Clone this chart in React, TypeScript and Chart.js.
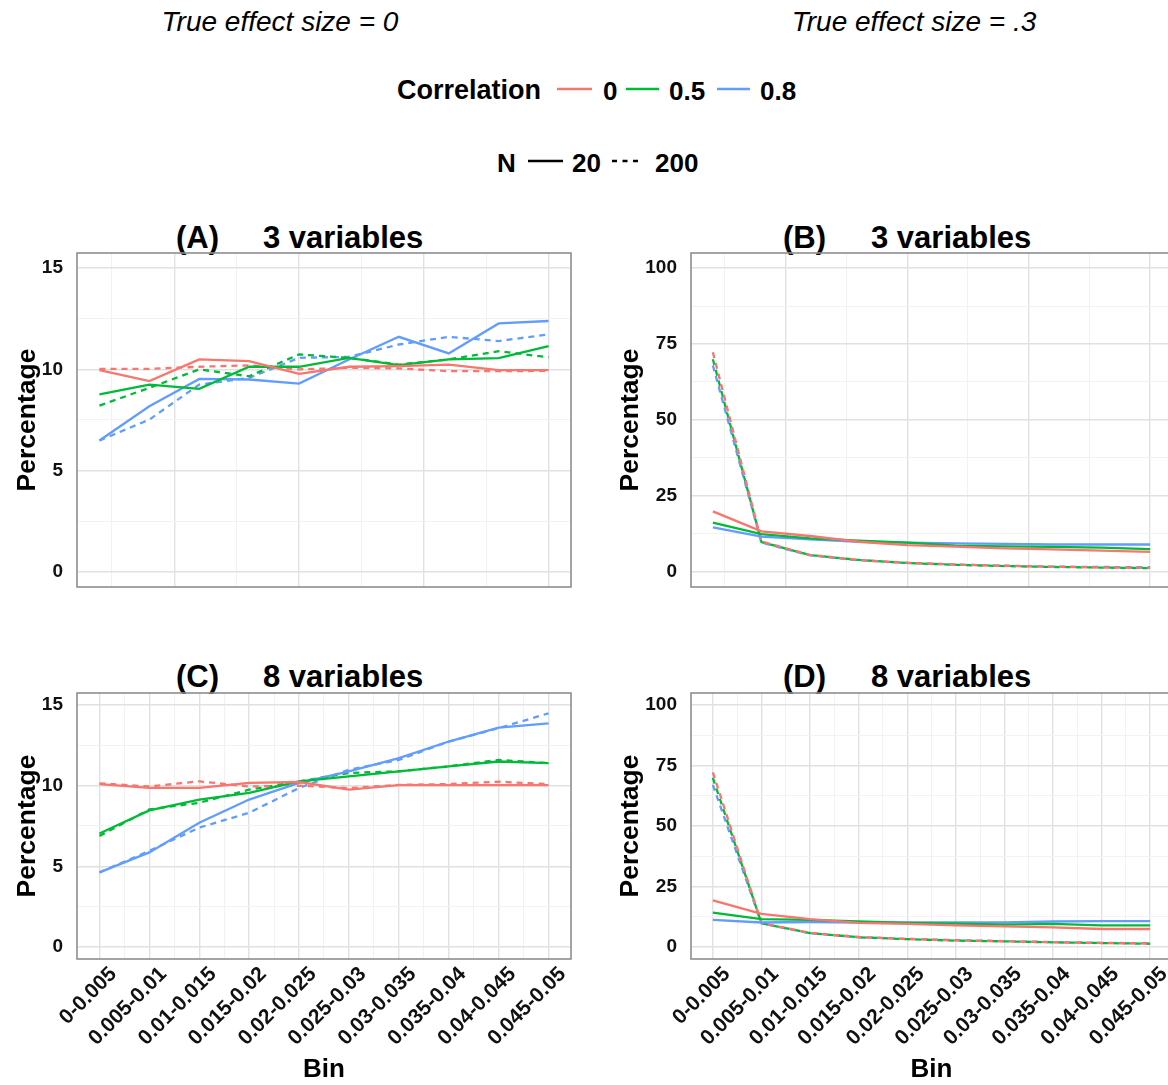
import React, { useEffect, useRef } from 'react';
import { Chart, registerables } from 'chart.js';

Chart.register(...registerables);

// ---------- data ----------
const bins = ['0-0.005', '0.005-0.01', '0.01-0.015', '0.015-0.02', '0.02-0.025', '0.025-0.03', '0.03-0.035', '0.035-0.04', '0.04-0.045', '0.045-0.05'];
const correlationLabels = ['0', '0.5', '0.8'];
const sampleSizeLabels = ['20', '200'];
const smallYTicks = [0, 2.5, 5, 7.5, 10, 12.5, 15];
const smallYLabels = [0, 5, 10, 15];
const bigYTicks = [0, 12.5, 25, 37.5, 50, 62.5, 75, 87.5, 100];
const bigYLabels = [0, 25, 50, 75, 100];

// Panel A: true effect size 0, 3 variables
const aCorr0N20 = [9.96, 9.42, 10.49, 10.41, 9.78, 10.13, 10.16, 10.24, 9.96, 9.96];
const aCorr0N200 = [10.03, 10.03, 10.13, 10.2, 10.0, 10.08, 10.05, 9.91, 9.91, 9.93];
const aCorr5N20 = [8.76, 9.25, 9.04, 10.13, 10.13, 10.57, 10.21, 10.49, 10.56, 11.15];
const aCorr5N200 = [8.21, 9.09, 10.0, 9.66, 10.74, 10.57, 10.24, 10.49, 10.9, 10.6];
const aCorr8N20 = [6.49, 8.18, 9.53, 9.5, 9.3, 10.49, 11.61, 10.79, 12.27, 12.39];
const aCorr8N200 = [6.49, 7.52, 9.25, 9.58, 10.57, 10.62, 11.23, 11.61, 11.4, 11.73];

// Panel B: true effect size .3, 3 variables
const bCorr0N20 = [19.9, 13.3, 11.8, 9.9, 8.8, 8.3, 7.7, 7.4, 7.0, 6.6];
const bCorr0N200 = [72.3, 10.0, 5.6, 3.9, 3.0, 2.4, 2.0, 1.7, 1.4, 1.3];
const bCorr5N20 = [16.2, 12.4, 11.0, 10.3, 9.6, 8.6, 8.4, 8.2, 8.0, 7.5];
const bCorr5N200 = [70.0, 9.8, 5.5, 3.9, 2.9, 2.3, 1.9, 1.6, 1.4, 1.2];
const bCorr8N20 = [14.6, 11.6, 10.7, 9.9, 9.6, 9.4, 9.2, 9.0, 9.0, 9.0];
const bCorr8N200 = [68.0, 9.6, 5.4, 3.8, 2.9, 2.4, 2.0, 1.7, 1.6, 1.5];

// Panel C: true effect size 0, 8 variables
const cCorr0N20 = [10.1, 9.86, 9.86, 10.17, 10.23, 9.76, 10.03, 10.03, 10.03, 10.03];
const cCorr0N200 = [10.15, 9.95, 10.27, 9.95, 10.0, 9.85, 10.05, 10.1, 10.25, 10.1];
const cCorr5N20 = [7.03, 8.47, 9.14, 9.55, 10.27, 10.58, 10.89, 11.2, 11.5, 11.4];
const cCorr5N200 = [6.88, 8.53, 8.94, 9.75, 10.27, 10.79, 10.89, 11.2, 11.6, 11.4];
const cCorr8N20 = [4.62, 5.86, 7.7, 9.14, 10.17, 10.89, 11.71, 12.74, 13.6, 13.87];
const cCorr8N200 = [4.62, 5.96, 7.4, 8.32, 9.86, 10.99, 11.6, 12.74, 13.57, 14.49];

// Panel D: true effect size .3, 8 variables
const dCorr0N20 = [19.2, 13.7, 11.5, 9.9, 9.5, 8.9, 8.5, 8.1, 7.4, 7.4];
const dCorr0N200 = [72.2, 9.9, 5.8, 4.1, 3.3, 2.7, 2.3, 1.9, 1.6, 1.4];
const dCorr5N20 = [14.2, 11.5, 11.2, 10.5, 9.9, 9.6, 9.2, 9.5, 8.9, 8.9];
const dCorr5N200 = [69.9, 9.8, 5.7, 4.0, 3.2, 2.6, 2.3, 1.9, 1.6, 1.3];
const dCorr8N20 = [11.2, 10.1, 10.3, 10.1, 10.1, 10.1, 10.1, 10.5, 10.7, 10.7];
const dCorr8N200 = [67.0, 9.7, 5.6, 4.0, 3.3, 2.8, 2.4, 2.0, 1.7, 1.5];

// ---------- style ----------
const FONT = '"Liberation Sans", Arial, Helvetica, sans-serif';
const COLORS = ['#F8766D', '#00BA38', '#619CFF'];
const DASH = [6, 5];
const MAJOR_GRID = '#e1e1e1';
const MINOR_GRID = '#f2f2f2';

type PanelProps = {
  left: number; top: number; width: number; height: number;
  padTop: number; padRight: number; padBottom: number;
  yAxisW: number; xAxisH: number; showX: boolean; big: boolean; yTitlePad: number;
  n20: number[][]; n200: number[][];
};

const borderPlugin = {
  id: 'panelBorder',
  afterDatasetsDraw(chart: any) {
    const { ctx, chartArea } = chart;
    ctx.save();
    ctx.strokeStyle = '#8e8e8e';
    ctx.lineWidth = 1.6;
    ctx.strokeRect(chartArea.left, chartArea.top, chartArea.right - chartArea.left, chartArea.bottom - chartArea.top);
    ctx.restore();
  },
};

function Panel(p: PanelProps) {
  const ref = useRef<HTMLCanvasElement | null>(null);
  useEffect(() => {
    if (!ref.current) return;
    const toPts = (arr: number[]) => arr.map((v, i) => ({ x: i + 1, y: v }));
    const datasets: any[] = [];
    p.n20.forEach((arr, i) => datasets.push({
      label: `r=${correlationLabels[i]}, N=${sampleSizeLabels[0]}`, data: toPts(arr),
      borderColor: COLORS[i], borderWidth: 2.3, pointRadius: 0, tension: 0, fill: false,
    }));
    p.n200.forEach((arr, i) => datasets.push({
      label: `r=${correlationLabels[i]}, N=${sampleSizeLabels[1]}`, data: toPts(arr),
      borderColor: COLORS[i], borderWidth: 2.3, borderDash: DASH, pointRadius: 0, tension: 0, fill: false,
    }));
    const xTicks = p.showX
      ? [1, 1.5, 2, 2.5, 3, 3.5, 4, 4.5, 5, 5.5, 6, 6.5, 7, 7.5, 8, 8.5, 9, 9.5, 10]
      : [1.25, 2.5, 3.75, 5, 6.25, 7.5, 8.75, 10];
    const xMajor = (v: number) => (p.showX ? Number.isInteger(v) : Math.abs(v / 2.5 - Math.round(v / 2.5)) < 1e-6);
    const yTicks = p.big ? bigYTicks : smallYTicks;
    const yLabels = p.big ? bigYLabels : smallYLabels;
    const chart = new Chart(ref.current, {
      type: 'line',
      data: { datasets },
      options: {
        animation: false,
        responsive: false,
        maintainAspectRatio: false,
        layout: { padding: { left: 0, top: p.padTop, right: p.padRight, bottom: p.padBottom } },
        plugins: { legend: { display: false }, tooltip: { enabled: false }, title: { display: false } },
        scales: {
          x: {
            type: 'linear',
            bounds: 'data',
            min: 0.55,
            max: 10.45,
            afterBuildTicks: (s: any) => { s.ticks = xTicks.map((v) => ({ value: v })); },
            afterFit: (s: any) => { s.height = p.xAxisH; s.paddingLeft = 0; s.paddingRight = 0; },
            grid: {
              drawTicks: false,
              color: (c: any) => (c.tick && xMajor(c.tick.value) ? MAJOR_GRID : MINOR_GRID),
              lineWidth: (c: any) => (c.tick && xMajor(c.tick.value) ? 1.4 : 1.1),
            },
            border: { display: false },
            ticks: {
              display: p.showX,
              autoSkip: false,
              minRotation: 45,
              maxRotation: 45,
              padding: 3,
              labelOffset: 14,
              color: '#111',
              font: { family: FONT, size: 21, weight: 'bold' },
              callback: (v: any) => (Number.isInteger(v) ? bins[v - 1] : ''),
            },
            title: {
              display: p.showX,
              text: 'Bin',
              color: '#000',
              font: { family: FONT, size: 26, weight: 'bold', lineHeight: 1 },
              padding: { top: 0, bottom: 2 },
            },
          },
          y: {
            type: 'linear',
            bounds: 'data',
            min: p.big ? -5 : -0.75,
            max: p.big ? 105 : 15.75,
            afterBuildTicks: (s: any) => { s.ticks = yTicks.map((v) => ({ value: v })); },
            afterFit: (s: any) => { s.width = p.yAxisW; s.paddingTop = 0; s.paddingBottom = 0; },
            grid: {
              drawTicks: false,
              color: (c: any) => (c.tick && yLabels.includes(c.tick.value) ? MAJOR_GRID : MINOR_GRID),
              lineWidth: (c: any) => (c.tick && yLabels.includes(c.tick.value) ? 1.4 : 1.1),
            },
            border: { display: false },
            ticks: {
              padding: 14,
              color: '#111',
              font: { family: FONT, size: 19, weight: 'bold' },
              callback: (v: any) => (yLabels.includes(v) ? String(v) : ''),
            },
            title: {
              display: true,
              text: 'Percentage',
              color: '#000',
              font: { family: FONT, size: 26.5, weight: 'bold', lineHeight: 1 },
              padding: { top: p.yTitlePad, bottom: 0 },
            },
          },
        },
      } as any,
      plugins: [borderPlugin],
    });
    return () => chart.destroy();
  }, []);
  return (
    <canvas
      ref={ref}
      width={p.width}
      height={p.height}
      style={{ position: 'absolute', left: p.left, top: p.top, width: p.width, height: p.height }}
    />
  );
}

function Txt(props: { x: number; base: number; size: number; text: string; bold?: boolean; italic?: boolean; center?: boolean }) {
  const { x, base, size, text, bold, italic, center } = props;
  return (
    <div
      style={{
        position: 'absolute',
        left: x,
        top: base - 0.8465 * size,
        fontSize: size,
        lineHeight: 1,
        fontFamily: FONT,
        fontWeight: bold ? 'bold' : 'normal',
        fontStyle: italic ? 'italic' : 'normal',
        whiteSpace: 'pre',
        color: '#000',
        transform: center ? 'translateX(-50%)' : undefined,
      }}
    >
      {text}
    </div>
  );
}

function Key(props: { x1: number; x2: number; y: number; color: string; dashed?: boolean }) {
  const { x1, x2, y, color, dashed } = props;
  return (
    <svg style={{ position: 'absolute', left: x1, top: y - 3, width: x2 - x1, height: 6 }} width={x2 - x1} height={6}>
      <line x1={0} y1={3} x2={x2 - x1} y2={3} stroke={color} strokeWidth={2.6} strokeDasharray={dashed ? '5 5.5' : undefined} />
    </svg>
  );
}

export default function App() {
  return (
    <div style={{ position: 'absolute', left: 0, top: 0, width: 1168, height: 1085, overflow: 'hidden', background: '#fff' }}>
      <Txt x={280} base={32} size={28} text="True effect size = 0" italic center />
      <Txt x={914} base={32} size={28} text="True effect size = .3" italic center />

      <Txt x={397} base={100} size={27} text="Correlation" bold />
      <Key x1={557} x2={592} y={89} color={COLORS[0]} />
      <Txt x={603} base={100} size={26} text={correlationLabels[0]} bold />
      <Key x1={626} x2={659} y={89} color={COLORS[1]} />
      <Txt x={669} base={100} size={26} text={correlationLabels[1]} bold />
      <Key x1={717} x2={750} y={89} color={COLORS[2]} />
      <Txt x={760} base={100} size={26} text={correlationLabels[2]} bold />

      <Txt x={497} base={172} size={26} text="N" bold />
      <Key x1={528} x2={563} y={161} color="#000" />
      <Txt x={572} base={172} size={26} text={sampleSizeLabels[0]} bold />
      <Key x1={612} x2={640} y={161} color="#000" dashed />
      <Txt x={655} base={172} size={26} text={sampleSizeLabels[1]} bold />

      <Txt x={176} base={248} size={31} text="(A)" bold />
      <Txt x={263} base={248} size={31} text="3 variables" bold />
      <Txt x={783} base={248} size={31} text="(B)" bold />
      <Txt x={871} base={248} size={31} text="3 variables" bold />
      <Txt x={176} base={687} size={31} text="(C)" bold />
      <Txt x={263} base={687} size={31} text="8 variables" bold />
      <Txt x={783} base={687} size={31} text="(D)" bold />
      <Txt x={871} base={687} size={31} text="8 variables" bold />

      <Panel left={0} top={250} width={590} height={345} padTop={3} padRight={19} padBottom={8}
        yAxisW={77} xAxisH={0} showX={false} big={false} yTitlePad={14}
        n20={[aCorr0N20, aCorr5N20, aCorr8N20]} n200={[aCorr0N200, aCorr5N200, aCorr8N200]} />
      <Panel left={600} top={250} width={580} height={345} padTop={3} padRight={8} padBottom={8}
        yAxisW={91} xAxisH={0} showX={false} big={true} yTitlePad={17}
        n20={[bCorr0N20, bCorr5N20, bCorr8N20]} n200={[bCorr0N200, bCorr5N200, bCorr8N200]} />
      <Panel left={0} top={690} width={590} height={395} padTop={3} padRight={19} padBottom={0}
        yAxisW={77} xAxisH={126} showX={true} big={false} yTitlePad={14}
        n20={[cCorr0N20, cCorr5N20, cCorr8N20]} n200={[cCorr0N200, cCorr5N200, cCorr8N200]} />
      <Panel left={600} top={690} width={580} height={395} padTop={3} padRight={8} padBottom={0}
        yAxisW={91} xAxisH={126} showX={true} big={true} yTitlePad={17}
        n20={[dCorr0N20, dCorr5N20, dCorr8N20]} n200={[dCorr0N200, dCorr5N200, dCorr8N200]} />
    </div>
  );
}
